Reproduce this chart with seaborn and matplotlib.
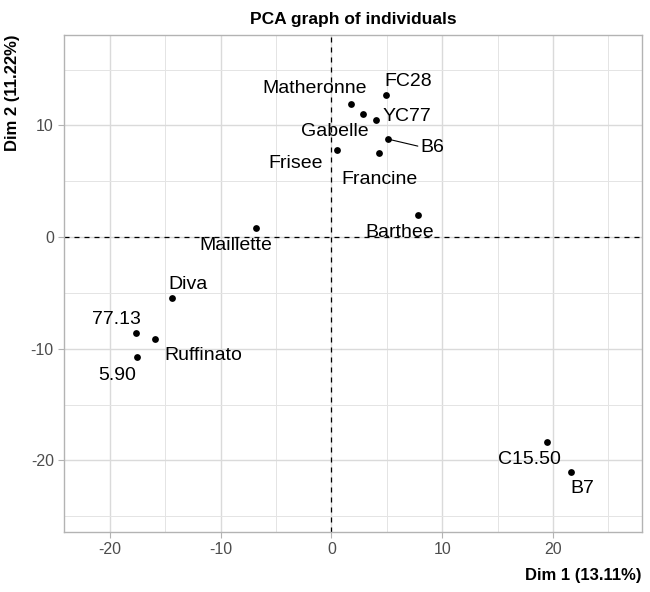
#!/usr/bin/env python3
"""PCA graph of individuals (factor map, Dim 1 vs Dim 2)."""

import numpy as np
import pandas as pd
import matplotlib
matplotlib.use("Agg")
import matplotlib.pyplot as plt
from matplotlib.ticker import MultipleLocator
import seaborn as sns

# Individuals and their coordinates on the first two dimensions
names = ["Matheronne", "Gabelle", "YC77", "FC28", "B6", "Frisee", "Francine",
         "Barthee", "Maillette", "Diva", "77.13", "Ruffinato", "5.90",
         "C15.50", "B7"]
dim1 = [1.8, 2.85, 4.0, 4.96, 5.14, 0.5, 4.3,
        7.8, -6.83, -14.35, -17.66, -15.9, -17.5,
        19.5, 21.6]
dim2 = [11.9, 11.0, 10.5, 12.7, 8.77, 7.8, 7.5,
        1.94, 0.84, -5.43, -8.56, -9.1, -10.7,
        -18.35, -21.0]

# Repelled label positions (data units), as placed in the original
label_x = [-1.5, 0.3, 6.8, 6.9, 9.1, -3.25, 4.3,
           6.2, -8.6, -12.9, -19.4, -11.6, -19.35,
           17.9, 22.6]
label_y = [13.3, 9.5, 10.8, 13.9, 8.0, 6.6, 5.2,
           0.45, -0.75, -4.2, -7.4, -10.6, -12.4,
           -19.9, -22.5]

df = pd.DataFrame({"name": names, "Dim1": dim1, "Dim2": dim2})

sns.set_style("white")
plt.rcParams["font.family"] = ["Liberation Sans", "DejaVu Sans"]
plt.rcParams["axes.unicode_minus"] = False

fig = plt.figure(figsize=(6.5, 5.92), dpi=100)
ax = fig.add_axes([0.0989, 0.1014, 0.8883, 0.8395])

# grid (theme_light look)
ax.xaxis.set_major_locator(MultipleLocator(10))
ax.yaxis.set_major_locator(MultipleLocator(10))
ax.xaxis.set_minor_locator(MultipleLocator(5))
ax.yaxis.set_minor_locator(MultipleLocator(5))
ax.grid(True, which="major", color="#DADADA", linewidth=1.0)
ax.grid(True, which="minor", color="#E4E4E4", linewidth=0.7)
ax.set_axisbelow(True)

ax.axhline(0, color="black", linestyle=(0, (4, 4)), linewidth=0.9, zorder=2)
ax.axvline(0, color="black", linestyle=(0, (4, 4)), linewidth=0.9, zorder=2)

sns.scatterplot(data=df, x="Dim1", y="Dim2", color="black", s=24,
                edgecolor="black", linewidth=0, ax=ax, zorder=3)

for i, name in enumerate(names):
    ax.text(label_x[i], label_y[i], name, ha="center", va="center",
            fontsize=14, color="black", zorder=4)

# segment linking B6 to its label
b6 = names.index("B6")
ax.plot([dim1[b6], label_x[b6] - 1.3], [dim2[b6], label_y[b6] + 0.15],
        color="black", linewidth=0.8, zorder=3)

ax.set_xlim(-24.1, 28.0)
ax.set_ylim(-26.4, 18.1)

for sp in ax.spines.values():
    sp.set_color("#B3B3B3")
    sp.set_linewidth(1.0)

ax.tick_params(axis="both", which="major", length=4, width=0.8,
               color="#B3B3B3", labelcolor="#4D4D4D", labelsize=11.5,
               direction="out", bottom=True, left=True)
ax.tick_params(axis="both", which="minor", length=0)

ax.set_xlabel("Dim 1 (13.11%)", fontsize=12, fontweight="bold",
              color="black", loc="right", labelpad=8)
ax.set_ylabel("Dim 2 (11.22%)", fontsize=12, fontweight="bold",
              color="black", loc="top", labelpad=8)
ax.set_title("PCA graph of individuals", fontsize=12.5, fontweight="bold",
             color="black", pad=8)

fig.savefig("out.png", dpi=100)
